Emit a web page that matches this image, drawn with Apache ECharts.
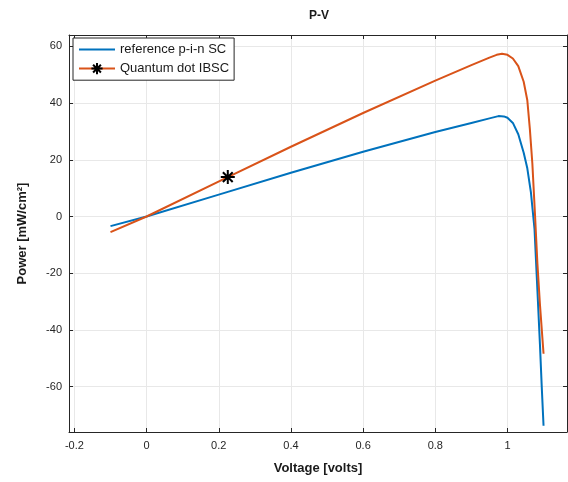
<!DOCTYPE html>
<html>
<head>
<meta charset="utf-8">
<script src="https://cdn.jsdelivr.net/npm/echarts@6/dist/echarts.min.js"></script>
<style>
  html, body { margin: 0; padding: 0; background: #fff; }
  #chart { width: 568px; height: 482px; }
</style>
</head>
<body>
<div id="chart"></div>
<script>
// P-V curves
const refVoltage = [-0.1, 0, 0.2, 0.4, 0.6, 0.8, 0.9, 0.95, 0.975, 0.99, 1.0, 1.015, 1.03, 1.045, 1.055, 1.065, 1.075, 1.083, 1.09, 1.095, 1.1];
const refPower = [-3.4, 0, 7.7, 15.4, 22.8, 29.8, 33.0, 34.6, 35.4, 35.3, 34.8, 33.0, 29.0, 22.5, 17.0, 8.5, -4.5, -26.0, -45.0, -60.0, -73.8];

const qdVoltage = [-0.1, 0, 0.225, 0.4, 0.6, 0.8, 0.9, 0.95, 0.97, 0.985, 1.0, 1.015, 1.03, 1.045, 1.055, 1.062, 1.069, 1.076, 1.083, 1.09, 1.1];
const qdPower = [-5.5, 0, 13.9, 24.6, 36.5, 47.9, 53.4, 56.0, 57.0, 57.4, 57.0, 55.7, 53.0, 47.5, 41.0, 31.0, 18.7, 1.5, -16.6, -31.0, -48.4];
const qdMarkerVoltage = 0.225;

const xTicks = [-0.2, 0, 0.2, 0.4, 0.6, 0.8, 1];
const yTicks = [-60, -40, -20, 0, 20, 40, 60];

const seriesNames = ["reference p-i-n SC", "Quantum dot IBSC"];

const asterisk = "path://M10,0L10,20M0,10L20,10M3,3L17,17M3,17L17,3";
const axisColor = "#262626";
const gridColor = "#e8e8e8";

const chart = echarts.init(document.getElementById("chart"));

const refData = refVoltage.map((v, i) => [v, refPower[i]]);
// only one point of the QD curve carries the marker
const qdData = qdVoltage.map((v, i) =>
  v === qdMarkerVoltage
    ? { value: [v, qdPower[i]] }
    : { value: [v, qdPower[i]], symbol: "none" }
);

function xAxis(position, withGrid) {
  return {
    type: "value",
    position: position,
    min: -0.215,
    max: 1.165,
    axisLine: { onZero: false, lineStyle: { color: axisColor, width: 1 } },
    axisTick: { show: true, inside: true, length: 4, customValues: xTicks, lineStyle: { color: axisColor } },
    axisLabel: {
      show: withGrid,
      customValues: xTicks,
      color: axisColor,
      fontFamily: "Liberation Sans",
      fontSize: 11,
      margin: 8,
    },
    splitLine: { show: withGrid, lineStyle: { color: gridColor, width: 1 } },
  };
}

function yAxis(position, withGrid) {
  return {
    type: "value",
    position: position,
    min: -76,
    max: 64,
    axisLine: { onZero: false, lineStyle: { color: axisColor, width: 1 } },
    axisTick: { show: true, inside: true, length: 4, customValues: yTicks, lineStyle: { color: axisColor } },
    axisLabel: {
      show: withGrid,
      customValues: yTicks,
      color: axisColor,
      fontFamily: "Liberation Sans",
      fontSize: 11,
      margin: 7,
    },
    splitLine: { show: withGrid, lineStyle: { color: gridColor, width: 1 } },
  };
}

const bottomX = xAxis("bottom", true);
bottomX.name = "Voltage [volts]";
bottomX.nameLocation = "middle";
bottomX.nameGap = 30;
bottomX.nameTextStyle = { fontFamily: "Liberation Sans", fontWeight: "bold", fontSize: 13, color: "#1a1a1a" };

const leftY = yAxis("left", true);
leftY.name = "Power [mW/cm²]";
leftY.nameLocation = "middle";
leftY.nameGap = 40;
leftY.nameTextStyle = { fontFamily: "Liberation Sans", fontWeight: "bold", fontSize: 13, color: "#1a1a1a" };

chart.setOption({
  animation: false,
  title: {
    text: "P-V",
    left: 314,
    textAlign: "center",
    top: 5,
    textStyle: { fontFamily: "Liberation Sans", fontWeight: "bold", fontSize: 12, color: "#1a1a1a" },
  },
  grid: { left: 69, right: 1, top: 35, bottom: 50, containLabel: false },
  legend: {
    orient: "vertical",
    left: 73,
    top: 38,
    padding: [5, 5, 5, 5],
    itemGap: 6,
    itemWidth: 36,
    itemHeight: 14,
    borderColor: axisColor,
    borderWidth: 1,
    backgroundColor: "#fff",
    textStyle: { fontFamily: "Liberation Sans", fontSize: 13, color: "#1a1a1a" },
    data: [
      { name: seriesNames[0], icon: "path://M0,0H36V2H0Z" },
      { name: seriesNames[1] },
    ],
  },
  xAxis: [bottomX, xAxis("top", false)],
  yAxis: [leftY, yAxis("right", false)],
  series: [
    {
      name: seriesNames[0],
      type: "line",
      data: refData,
      symbol: "none",
      lineStyle: { color: "#0072BD", width: 2 },
      itemStyle: { color: "#0072BD" },
    },
    {
      name: seriesNames[1],
      type: "line",
      data: qdData,
      symbol: asterisk,
      symbolSize: 14,
      showSymbol: true,
      lineStyle: { color: "#D95319", width: 2 },
      itemStyle: { color: "#000", borderColor: "#000", borderWidth: 2 },
    },
  ],
});
</script>
</body>
</html>
